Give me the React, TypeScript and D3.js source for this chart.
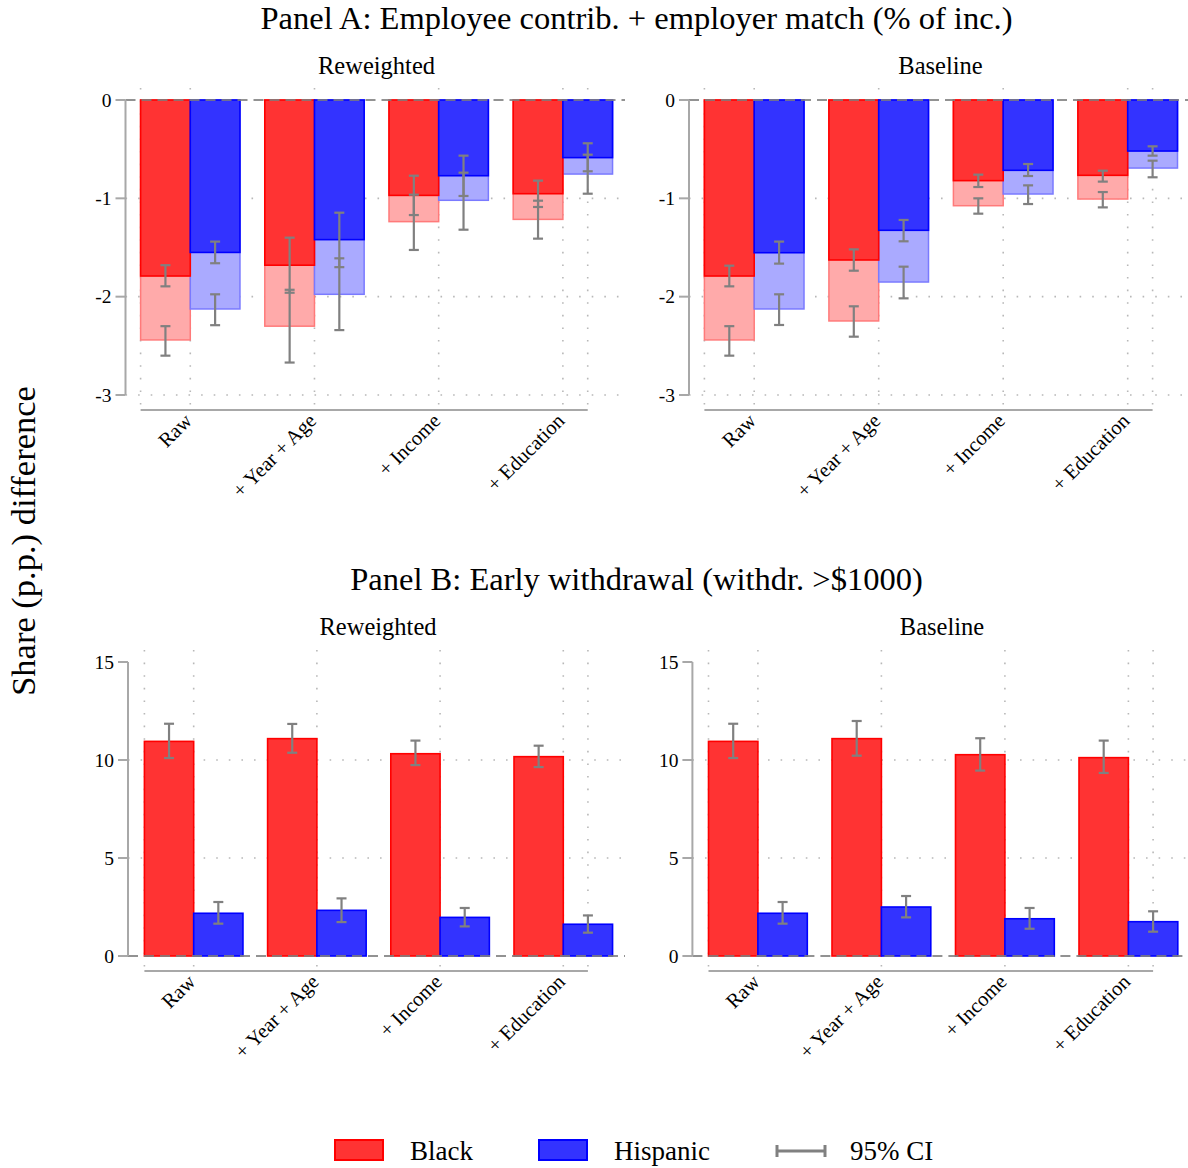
import React from "react";
import * as d3 from "d3";

// ---------- data ----------
const CATEGORIES = ["Raw", "+ Year + Age", "+ Income", "+ Education"];
const SERIES = ["Black", "Hispanic"];

// Panel A — Reweighted (dark = employee contrib., light = incl. employer match)
const A_RW_BLACK = [-1.79, -1.68, -0.97, -0.953];
const A_RW_BLACK_HI = [-1.68, -1.4, -0.77, -0.82];
const A_RW_BLACK_LO = [-1.895, -1.96, -1.17, -1.088];
const A_RW_BLACK_TOT = [-2.44, -2.3, -1.237, -1.214];
const A_RW_BLACK_TOT_HI = [-2.3, -1.93, -0.963, -1.024];
const A_RW_BLACK_TOT_LO = [-2.6, -2.67, -1.525, -1.41];
const A_RW_HISP = [-1.55, -1.42, -0.77, -0.586];
const A_RW_HISP_HI = [-1.44, -1.146, -0.566, -0.44];
const A_RW_HISP_LO = [-1.66, -1.7, -0.976, -0.725];
const A_RW_HISP_TOT = [-2.125, -1.976, -1.02, -0.753];
const A_RW_HISP_TOT_HI = [-1.976, -1.61, -0.739, -0.556];
const A_RW_HISP_TOT_LO = [-2.29, -2.34, -1.319, -0.953];

// Panel A — Baseline
const A_BL_BLACK = [-1.79, -1.627, -0.82, -0.766];
const A_BL_BLACK_HI = [-1.685, -1.519, -0.759, -0.719];
const A_BL_BLACK_LO = [-1.895, -1.736, -0.885, -0.83];
const A_BL_BLACK_TOT = [-2.44, -2.247, -1.075, -1.007];
const A_BL_BLACK_TOT_HI = [-2.3, -2.098, -1.0, -0.936];
const A_BL_BLACK_TOT_LO = [-2.6, -2.407, -1.156, -1.092];
const A_BL_HISP = [-1.553, -1.325, -0.715, -0.519];
const A_BL_HISP_HI = [-1.44, -1.22, -0.651, -0.471];
const A_BL_HISP_LO = [-1.664, -1.437, -0.773, -0.566];
const A_BL_HISP_TOT = [-2.125, -1.851, -0.956, -0.692];
const A_BL_HISP_TOT_HI = [-1.976, -1.695, -0.868, -0.617];
const A_BL_HISP_TOT_LO = [-2.288, -2.017, -1.058, -0.786];

// Panel B — Reweighted
const B_RW_BLACK = [10.95, 11.09, 10.32, 10.17];
const B_RW_BLACK_HI = [11.85, 11.84, 10.99, 10.73];
const B_RW_BLACK_LO = [10.1, 10.37, 9.74, 9.64];
const B_RW_HISP = [2.18, 2.33, 1.97, 1.62];
const B_RW_HISP_HI = [2.755, 2.94, 2.45, 2.07];
const B_RW_HISP_LO = [1.65, 1.73, 1.51, 1.19];

// Panel B — Baseline
const B_BL_BLACK = [10.95, 11.09, 10.27, 10.12];
const B_BL_BLACK_HI = [11.85, 11.99, 11.11, 10.99];
const B_BL_BLACK_LO = [10.1, 10.22, 9.46, 9.34];
const B_BL_HISP = [2.18, 2.5, 1.9, 1.75];
const B_BL_HISP_HI = [2.755, 3.06, 2.45, 2.28];
const B_BL_HISP_LO = [1.65, 1.97, 1.39, 1.24];

const A_TICKS = [0, -1, -2, -3];
const B_TICKS = [0, 5, 10, 15];
const A_GRID = [-1, -2, -3];
const B_GRID = [5, 10];
const GRID_POS = [-0.4, 0, 1, 2, 3, 3.2];

// ---------- styles ----------
const FONT = "'Liberation Serif', 'Times New Roman', Times, serif";
const RED = "#ff3333";
const RED_EDGE = "#ff0000";
const BLUE = "#3333ff";
const BLUE_EDGE = "#0000ff";
const RED_LIGHT = "#ffaaaa";
const RED_LIGHT_EDGE = "#ff7a7a";
const BLUE_LIGHT = "#aaaaff";
const BLUE_LIGHT_EDGE = "#7a7aff";
const GRAY = "#808080";
const AXIS = "#a8a8a8";

type Layer = { v: number[]; lo: number[]; hi: number[] };
type SubProps = {
  title: string;
  titleX: number;
  titleY: number;
  axisX: number;
  barLeft: number;
  step: number;
  domain: [number, number];
  yRange: [number, number];
  plotTop: number;
  plotRight: number;
  xAxisY: number;
  ticks: number[];
  grid: number[];
  black: Layer;
  hisp: Layer;
  blackTot?: Layer;
  hispTot?: Layer;
};

function ErrBar({ x, y1, y2 }: { x: number; y1: number; y2: number }) {
  const cw = 5;
  return (
    <g stroke={GRAY} strokeWidth={2.2} fill="none">
      <line x1={x} x2={x} y1={y1} y2={y2} />
      <line x1={x - cw} x2={x + cw} y1={y1} y2={y1} />
      <line x1={x - cw} x2={x + cw} y1={y2} y2={y2} />
    </g>
  );
}

function SubPanel(p: SubProps) {
  const n = CATEGORIES.length;
  const x = d3
    .scaleBand<string>()
    .domain(CATEGORIES)
    .range([p.barLeft, p.barLeft + p.step * (n - 0.2)])
    .paddingInner(0.2)
    .paddingOuter(0);
  const inner = d3.scaleBand<string>().domain(SERIES).range([0, x.bandwidth()]);
  const y = d3.scaleLinear().domain(p.domain).range(p.yRange);
  const center = (pos: number) => p.barLeft + x.bandwidth() / 2 + pos * x.step();
  const y0 = y(0);

  const layers: { layer?: Layer; s: string; fill: string; edge: string; sw: number }[] = [
    { layer: p.blackTot, s: "Black", fill: RED_LIGHT, edge: RED_LIGHT_EDGE, sw: 1.5 },
    { layer: p.hispTot, s: "Hispanic", fill: BLUE_LIGHT, edge: BLUE_LIGHT_EDGE, sw: 1.5 },
    { layer: p.black, s: "Black", fill: RED, edge: RED_EDGE, sw: 1.6 },
    { layer: p.hisp, s: "Hispanic", fill: BLUE, edge: BLUE_EDGE, sw: 1.6 },
  ];

  const yMin = Math.min(...p.domain);
  const yMax = Math.max(...p.domain);

  return (
    <g>
      <text x={p.titleX} y={p.titleY} textAnchor="middle" fontSize={24.5} fontFamily={FONT}>
        {p.title}
      </text>
      {p.grid.map((g) => (
        <line
          key={"hg" + g}
          x1={p.axisX}
          x2={p.plotRight}
          y1={y(g)}
          y2={y(g)}
          stroke="#b8b8b8"
          strokeWidth={1.6}
          strokeDasharray="1.6,11"
        />
      ))}
      {GRID_POS.map((g) => (
        <line
          key={"vg" + g}
          x1={center(g)}
          x2={center(g)}
          y1={p.plotTop}
          y2={p.xAxisY}
          stroke="#b8b8b8"
          strokeWidth={1.6}
          strokeDasharray="1.6,11"
        />
      ))}
      {layers.map((L, li) =>
        L.layer
          ? L.layer.v.map((v, i) => {
              const bx = (x(CATEGORIES[i]) as number) + (inner(L.s) as number);
              const yt = Math.min(y(v), y0);
              const h = Math.abs(y(v) - y0);
              return (
                <rect
                  key={"b" + li + "-" + i}
                  x={bx}
                  y={yt}
                  width={inner.bandwidth()}
                  height={h}
                  fill={L.fill}
                  stroke={L.edge}
                  strokeWidth={L.sw}
                />
              );
            })
          : null
      )}
      <line
        x1={p.axisX}
        x2={p.plotRight}
        y1={y0}
        y2={y0}
        stroke={GRAY}
        strokeWidth={2}
        strokeDasharray="10,6"
        opacity={0.85}
      />
      {layers.map((L, li) =>
        L.layer
          ? L.layer.v.map((v, i) => {
              const cx = (x(CATEGORIES[i]) as number) + (inner(L.s) as number) + inner.bandwidth() / 2;
              return <ErrBar key={"e" + li + "-" + i} x={cx} y1={y(L.layer!.hi[i])} y2={y(L.layer!.lo[i])} />;
            })
          : null
      )}
      <line x1={p.axisX} x2={p.axisX} y1={y(yMin)} y2={y(yMax)} stroke={AXIS} strokeWidth={2} />
      {p.ticks.map((t) => (
        <g key={"t" + t}>
          <line x1={p.axisX - 10} x2={p.axisX} y1={y(t)} y2={y(t)} stroke={AXIS} strokeWidth={2} />
          <text x={p.axisX - 14} y={y(t)} dy="0.35em" textAnchor="end" fontSize={19.5} fontFamily={FONT}>
            {t}
          </text>
        </g>
      ))}
      <line
        x1={center(GRID_POS[0])}
        x2={center(GRID_POS[GRID_POS.length - 1])}
        y1={p.xAxisY}
        y2={p.xAxisY}
        stroke={AXIS}
        strokeWidth={2}
      />
      {CATEGORIES.map((c, i) => {
        const tx = center(i) + 3;
        const ty = p.xAxisY + 12;
        return (
          <text
            key={"xl" + c}
            x={tx}
            y={ty}
            textAnchor="end"
            fontSize={20.5}
            fontFamily={FONT}
            transform={`rotate(-45 ${tx} ${ty})`}
          >
            {c}
          </text>
        );
      })}
    </g>
  );
}

export default function App() {
  const L = (v: number[], lo: number[], hi: number[]): Layer => ({ v, lo, hi });
  return (
    <svg
      width={1188}
      height={1168}
      style={{ display: "block", background: "#fff", position: "absolute", left: 0, top: 0 }}
    >
      <rect width={1188} height={1168} fill="#fff" />
      <text x={636.5} y={29} textAnchor="middle" fontSize={32.5} fontFamily={FONT}>
        Panel A: Employee contrib. + employer match (% of inc.)
      </text>
      <text x={636.5} y={590} textAnchor="middle" fontSize={32.5} fontFamily={FONT}>
        Panel B: Early withdrawal (withdr. &gt;$1000)
      </text>
      <text
        x={0}
        y={0}
        transform="translate(35 541) rotate(-90)"
        textAnchor="middle"
        fontSize={34.5}
        fontFamily={FONT}
      >
        Share (p.p.) difference
      </text>

      <SubPanel
        title="Reweighted"
        titleX={376.5}
        titleY={74}
        axisX={125.5}
        barLeft={140.6}
        step={124.2}
        domain={[-3, 0]}
        yRange={[395, 100]}
        plotTop={88}
        plotRight={625}
        xAxisY={410}
        ticks={A_TICKS}
        grid={A_GRID}
        black={L(A_RW_BLACK, A_RW_BLACK_LO, A_RW_BLACK_HI)}
        hisp={L(A_RW_HISP, A_RW_HISP_LO, A_RW_HISP_HI)}
        blackTot={L(A_RW_BLACK_TOT, A_RW_BLACK_TOT_LO, A_RW_BLACK_TOT_HI)}
        hispTot={L(A_RW_HISP_TOT, A_RW_HISP_TOT_LO, A_RW_HISP_TOT_HI)}
      />
      <SubPanel
        title="Baseline"
        titleX={940.5}
        titleY={74}
        axisX={689}
        barLeft={704.4}
        step={124.5}
        domain={[-3, 0]}
        yRange={[395, 100]}
        plotTop={88}
        plotRight={1188}
        xAxisY={410}
        ticks={A_TICKS}
        grid={A_GRID}
        black={L(A_BL_BLACK, A_BL_BLACK_LO, A_BL_BLACK_HI)}
        hisp={L(A_BL_HISP, A_BL_HISP_LO, A_BL_HISP_HI)}
        blackTot={L(A_BL_BLACK_TOT, A_BL_BLACK_TOT_LO, A_BL_BLACK_TOT_HI)}
        hispTot={L(A_BL_HISP_TOT, A_BL_HISP_TOT_LO, A_BL_HISP_TOT_HI)}
      />
      <SubPanel
        title="Reweighted"
        titleX={378}
        titleY={635}
        axisX={128}
        barLeft={144.4}
        step={123.2}
        domain={[0, 15]}
        yRange={[956, 662]}
        plotTop={650}
        plotRight={625}
        xAxisY={971}
        ticks={B_TICKS}
        grid={B_GRID}
        black={L(B_RW_BLACK, B_RW_BLACK_LO, B_RW_BLACK_HI)}
        hisp={L(B_RW_HISP, B_RW_HISP_LO, B_RW_HISP_HI)}
      />
      <SubPanel
        title="Baseline"
        titleX={942}
        titleY={635}
        axisX={692.4}
        barLeft={708.5}
        step={123.5}
        domain={[0, 15]}
        yRange={[956, 662]}
        plotTop={650}
        plotRight={1188}
        xAxisY={971}
        ticks={B_TICKS}
        grid={B_GRID}
        black={L(B_BL_BLACK, B_BL_BLACK_LO, B_BL_BLACK_HI)}
        hisp={L(B_BL_HISP, B_BL_HISP_LO, B_BL_HISP_HI)}
      />

      <g fontFamily={FONT} fontSize={27}>
        <rect x={335} y={1140} width={48} height={20} fill={RED} stroke={RED_EDGE} strokeWidth={2} />
        <text x={410} y={1160}>{SERIES[0]}</text>
        <rect x={539} y={1140} width={48} height={20} fill={BLUE} stroke={BLUE_EDGE} strokeWidth={2} />
        <text x={614} y={1160}>{SERIES[1]}</text>
        <g stroke={GRAY} strokeWidth={3}>
          <line x1={777} x2={825} y1={1151} y2={1151} />
          <line x1={777} x2={777} y1={1145} y2={1157} />
          <line x1={825} x2={825} y1={1145} y2={1157} />
        </g>
        <text x={850} y={1160}>95% CI</text>
      </g>
    </svg>
  );
}
